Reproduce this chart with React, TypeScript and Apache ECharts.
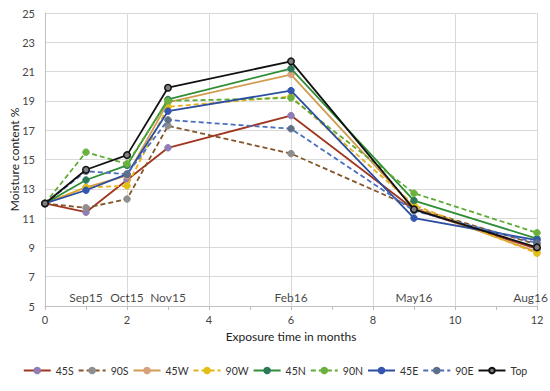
import React, { useEffect, useRef } from "react";
import * as echarts from "echarts";

const months = [0, 1, 2, 3, 6, 9, 12];

const s45S = [12.0, 11.4, 13.6, 15.8, 18.0, 11.6, 8.9];
const s90S = [12.0, 11.7, 12.3, 17.3, 15.4, 11.7, 9.2];
const s45W = [12.0, 13.1, 13.9, 18.9, 20.8, 11.7, 8.7];
const s90W = [12.0, 13.1, 13.2, 18.6, 19.3, 11.9, 8.6];
const s45N = [12.0, 13.6, 14.6, 19.1, 21.2, 12.2, 9.6];
const s90N = [12.0, 15.5, 14.7, 19.0, 19.2, 12.7, 10.0];
const s45E = [12.0, 12.9, 14.0, 18.3, 19.7, 11.0, 9.5];
const s90E = [12.0, 14.2, 14.0, 17.7, 17.1, 11.5, 9.3];
const sTop = [12.0, 14.3, 15.3, 19.9, 21.7, 11.6, 9.0];

const periodLabels = ["Sep15", "Oct15", "Nov15", "Feb16", "May16", "Aug16"];
const periodMonths = [1, 2, 3, 6, 9, 12];

const seriesNames = ["45S", "90S", "45W", "90W", "45N", "90N", "45E", "90E", "Top"];
const seriesValues = [s45S, s90S, s45W, s90W, s45N, s90N, s45E, s90E, sTop];
const lineColors = ["#A0361F", "#84552A", "#D39B4E", "#E6B01C", "#2F8E35", "#5DAA34", "#2C4E9E", "#4A6FC0", "#111111"];
const markerColors = ["#8F7DB5", "#8E8E8E", "#D8A07C", "#E2C017", "#2D7A5A", "#6AB13E", "#3556B0", "#5E6F88", "#7F7F7F"];
const dashed = [false, true, false, true, false, true, false, true, false];

export default function App() {
  const ref = useRef<HTMLDivElement>(null);
  useEffect(() => {
    if (!ref.current) return;
    const chart = echarts.init(ref.current, undefined, { renderer: "svg" });
    const font = "Lato, 'Open Sans', sans-serif";
    const lineSeries = seriesNames.map((name, i) => ({
      name,
      type: "line",
      data: months.map((m, j) => [m, seriesValues[i][j]]),
      symbol: "circle",
      symbolSize: 6.5,
      lineStyle: { color: lineColors[i], width: 1.8, type: dashed[i] ? [5, 3] : "solid" },
      itemStyle: { color: markerColors[i], borderColor: i === 8 ? "#111111" : markerColors[i], borderWidth: i === 8 ? 1.5 : 1 },
      z: 3 + i,
    }));
    const labelSeries = {
      name: "periods",
      type: "scatter",
      symbolSize: 0,
      silent: true,
      data: periodMonths.map((m, i) => ({
        value: [m, 5.55],
        name: periodLabels[i],
        label: i === periodMonths.length - 1 ? { align: "right", offset: [11, 0] } : {},
      })),
      label: {
        show: true,
        position: "inside",
        formatter: (p: any) => p.name,
        color: "#111",
        fontSize: 12,
        fontFamily: font,
      },
    };
    chart.setOption({
      animation: false,
      backgroundColor: "#ffffff",
      grid: { left: 45, right: 13, top: 13, bottom: 85, containLabel: false, outerBoundsMode: "none" },
      xAxis: {
        type: "value",
        min: 0,
        max: 12,
        interval: 2,
        name: "Exposure time in months",
        nameLocation: "middle",
        nameGap: 24,
        nameMoveOverlap: false,
        nameTextStyle: { fontSize: 12, color: "#222", fontFamily: font },
        axisLine: { show: true, lineStyle: { color: "#BFBFBF" } },
        axisTick: { show: true, length: 4, lineStyle: { color: "#BFBFBF" } },
        minorTick: { show: true, splitNumber: 2, length: 4, lineStyle: { color: "#BFBFBF" } },
        axisLabel: { fontSize: 11, color: "#444", fontFamily: font, margin: 8 },
        splitLine: { show: true, lineStyle: { color: "#D9D9D9" } },
      },
      yAxis: {
        type: "value",
        min: 5,
        max: 25,
        interval: 2,
        name: "Moisture content %",
        nameLocation: "middle",
        nameGap: 25,
        nameMoveOverlap: false,
        nameTextStyle: { fontSize: 12, color: "#222", fontFamily: font },
        axisLine: { show: true, lineStyle: { color: "#BFBFBF" } },
        axisTick: { show: false },
        axisLabel: { fontSize: 11, color: "#444", fontFamily: font, margin: 10 },
        splitLine: { show: true, lineStyle: { color: "#D9D9D9" } },
      },
      legend: {
        data: seriesNames,
        top: 360,
        left: "center",
        itemWidth: 27,
        itemHeight: 7,
        itemGap: 4,
        textStyle: { fontSize: 10.5, color: "#333", fontFamily: font },
      },
      series: [...lineSeries, labelSeries],
    });
    return () => chart.dispose();
  }, []);
  return <div ref={ref} style={{ position: "fixed", left: 0, top: 0, width: 550, height: 391 }} />;
}
